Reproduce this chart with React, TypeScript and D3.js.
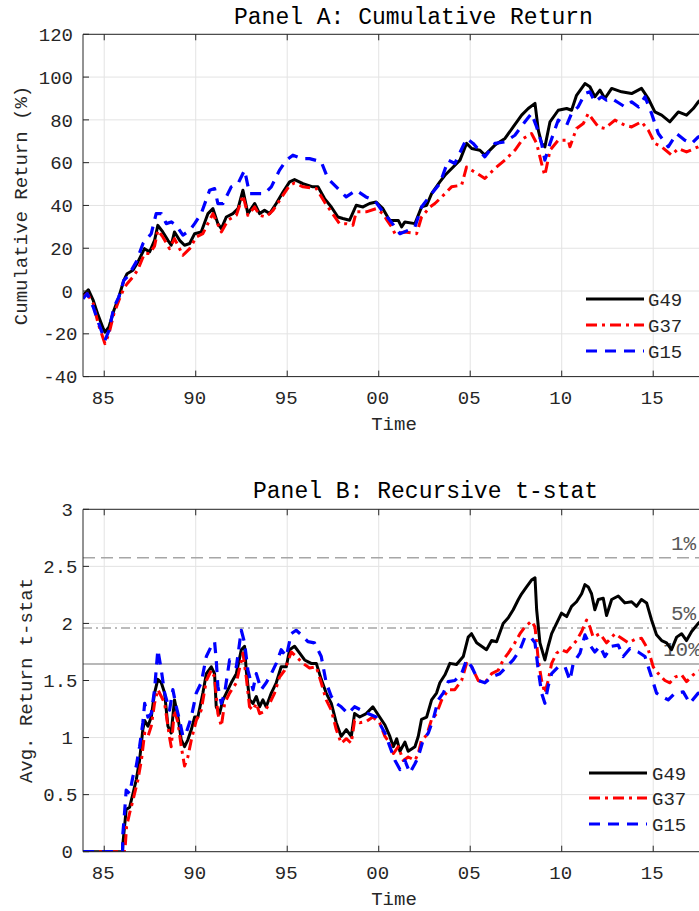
import React from "react";
import * as d3 from "d3";

type Pt = [number, number];

// ---------- Panel A: cumulative return (%) ----------
const g49A: Pt[] = [[1983.84,-2.0],[1984.13,0.6],[1984.4,-4.4],[1984.67,-11.4],[1984.95,-17.6],[1985.04,-19.2],[1985.26,-16.8],[1985.53,-9.0],[1985.8,-2.8],[1986.07,5.0],[1986.25,8.1],[1986.57,9.7],[1986.84,13.6],[1987.2,19.8],[1987.48,18.3],[1987.75,23.7],[1987.93,30.7],[1988.2,27.6],[1988.48,23.7],[1988.66,21.4],[1988.84,27.6],[1989.12,23.7],[1989.39,21.4],[1989.67,22.2],[1989.94,26.8],[1990.3,27.6],[1990.67,36.2],[1990.94,38.5],[1991.21,31.5],[1991.4,29.2],[1991.67,34.6],[1992.03,36.2],[1992.31,38.5],[1992.58,47.1],[1992.85,36.2],[1993.22,40.9],[1993.49,36.2],[1993.76,37.7],[1994.04,36.2],[1994.4,40.9],[1994.77,46.3],[1995.13,51.0],[1995.4,52.1],[1995.86,50.2],[1996.4,48.7],[1996.68,48.7],[1997.04,43.2],[1997.41,39.3],[1997.77,34.6],[1998.04,33.9],[1998.41,33.1],[1998.77,40.1],[1999.14,39.3],[1999.5,40.9],[1999.86,41.6],[2000.23,38.5],[2000.59,33.1],[2000.8,33.0],[2001.07,33.0],[2001.25,30.0],[2001.43,32.3],[2001.98,31.5],[2002.34,39.3],[2002.62,40.1],[2002.89,45.5],[2003.34,51.0],[2003.62,54.1],[2004.07,58.0],[2004.44,61.2],[2004.8,69.0],[2005.08,66.6],[2005.53,65.8],[2005.8,63.5],[2006.35,68.2],[2006.9,71.3],[2007.35,76.7],[2007.81,82.2],[2008.17,85.3],[2008.54,87.7],[2008.72,75.2],[2008.9,69.0],[2009.08,67.4],[2009.36,79.1],[2009.81,84.5],[2010.27,85.3],[2010.54,84.5],[2010.81,91.5],[2011.27,97.0],[2011.54,95.5],[2011.81,90.8],[2012.09,93.9],[2012.36,90.0],[2012.73,94.7],[2013.27,93.1],[2013.82,92.3],[2014.36,94.7],[2014.73,90.0],[2015.09,83.7],[2015.46,82.2],[2015.91,79.1],[2016.37,83.7],[2016.82,82.2],[2017.19,85.3],[2017.46,88.4],[2017.8,91.0]];

const g37A: Pt[] = [[1983.84,-2.8],[1984.07,-1.2],[1984.4,-5.9],[1984.67,-15.3],[1985.04,-24.6],[1985.26,-19.9],[1985.53,-10.6],[1985.8,-4.4],[1986.07,1.1],[1986.25,3.4],[1986.57,6.6],[1986.84,10.0],[1987.2,17.5],[1987.48,17.5],[1987.75,21.0],[1987.93,28.4],[1988.2,25.3],[1988.57,19.8],[1988.84,24.5],[1989.3,16.7],[1989.67,19.8],[1990.03,25.3],[1990.39,26.8],[1990.94,36.2],[1991.4,27.6],[1991.76,33.1],[1992.22,35.4],[1992.58,44.8],[1992.85,35.4],[1993.22,39.3],[1993.49,35.4],[1993.85,34.6],[1994.22,37.7],[1994.77,44.8],[1995.13,49.4],[1995.4,50.5],[1995.86,48.7],[1996.59,47.9],[1997.04,41.6],[1997.41,37.0],[1997.86,31.5],[1998.22,31.5],[1998.59,30.7],[1998.77,37.0],[1999.32,37.0],[1999.86,38.5],[2000.23,36.2],[2000.45,33.1],[2000.7,30.0],[2000.89,26.8],[2001.43,27.6],[2002.07,26.8],[2002.34,34.6],[2002.8,39.3],[2003.07,40.9],[2003.62,45.5],[2003.98,48.7],[2004.53,49.5],[2004.8,58.0],[2005.08,56.5],[2005.53,54.1],[2005.8,52.6],[2006.35,57.3],[2006.9,61.2],[2007.44,65.8],[2007.9,71.3],[2008.35,73.6],[2008.63,69.0],[2008.81,62.7],[2008.99,56.5],[2009.08,54.1],[2009.36,65.8],[2009.81,70.5],[2010.36,70.5],[2010.45,67.4],[2010.81,76.0],[2011.18,78.3],[2011.45,83.0],[2011.72,79.9],[2012.0,76.7],[2012.36,76.0],[2012.91,79.9],[2013.45,77.5],[2013.82,76.7],[2014.36,79.1],[2014.73,75.2],[2015.09,69.0],[2015.46,67.4],[2016.0,63.5],[2016.37,66.6],[2016.82,65.0],[2017.46,67.4],[2017.8,69.0]];

const g15A: Pt[] = [[1983.84,-3.6],[1984.07,-1.2],[1984.4,-7.5],[1984.67,-14.5],[1985.04,-23.1],[1985.26,-18.4],[1985.53,-7.5],[1985.8,-2.8],[1986.07,5.0],[1986.3,7.0],[1986.75,13.6],[1987.12,22.2],[1987.57,26.8],[1987.84,36.2],[1988.12,36.2],[1988.39,31.5],[1988.66,32.3],[1988.94,30.7],[1989.3,26.1],[1989.67,28.4],[1989.94,31.5],[1990.3,36.2],[1990.76,47.1],[1991.03,47.9],[1991.21,40.9],[1991.49,40.9],[1991.94,48.7],[1992.31,50.2],[1992.67,56.5],[1992.94,45.5],[1993.31,45.5],[1993.76,45.5],[1994.13,48.7],[1994.58,56.5],[1994.95,61.1],[1995.31,63.5],[1995.77,61.9],[1996.22,61.9],[1996.86,60.4],[1997.22,52.6],[1997.68,48.7],[1998.22,44.0],[1998.77,47.1],[1999.3,44.0],[1999.77,42.4],[2000.23,37.0],[2000.68,32.3],[2001.16,26.8],[2001.61,28.4],[2001.98,30.0],[2002.34,39.3],[2002.89,45.5],[2003.34,50.2],[2003.8,61.2],[2004.16,59.6],[2004.8,71.3],[2005.16,69.0],[2005.8,62.7],[2006.35,69.0],[2006.9,69.7],[2007.44,72.8],[2007.99,79.1],[2008.35,83.0],[2008.63,76.7],[2008.9,69.0],[2009.08,61.2],[2009.36,69.0],[2009.81,79.9],[2010.27,77.5],[2010.54,83.0],[2010.9,86.1],[2011.27,92.3],[2011.54,93.1],[2011.81,88.4],[2012.18,90.8],[2012.45,89.2],[2012.73,90.0],[2013.1,88.0],[2013.45,86.1],[2013.82,88.4],[2014.2,86.0],[2014.55,90.8],[2014.91,83.0],[2015.28,73.6],[2015.82,67.4],[2016.28,73.6],[2016.73,70.5],[2017.1,69.0],[2017.46,72.0],[2017.8,73.0]];

// ---------- Panel B: recursive t-stat ----------
const g49B: Pt[] = [[1983.84,0],[1986.0,0],[1986.02,0.07],[1986.11,0.22],[1986.2,0.37],[1986.39,0.39],[1986.57,0.51],[1986.75,0.63],[1986.93,0.80],[1987.11,1.07],[1987.21,1.15],[1987.39,1.10],[1987.57,1.18],[1987.75,1.39],[1987.93,1.51],[1988.12,1.48],[1988.3,1.39],[1988.48,1.10],[1988.66,1.04],[1988.84,1.33],[1989.03,1.18],[1989.21,0.98],[1989.39,0.92],[1989.57,0.98],[1989.76,1.07],[1989.94,1.18],[1990.12,1.18],[1990.39,1.39],[1990.58,1.56],[1990.85,1.62],[1991.03,1.56],[1991.12,1.27],[1991.3,1.21],[1991.49,1.33],[1991.67,1.39],[1991.94,1.48],[1992.22,1.56],[1992.49,1.77],[1992.67,1.80],[1992.76,1.59],[1992.94,1.33],[1993.13,1.30],[1993.31,1.36],[1993.49,1.27],[1993.67,1.33],[1993.85,1.27],[1994.13,1.39],[1994.4,1.48],[1994.67,1.62],[1994.95,1.62],[1995.13,1.77],[1995.4,1.80],[1995.68,1.74],[1995.95,1.68],[1996.31,1.65],[1996.59,1.65],[1996.86,1.51],[1997.13,1.39],[1997.41,1.30],[1997.68,1.13],[1997.95,1.01],[1998.23,1.07],[1998.5,1.01],[1998.68,1.21],[1998.96,1.18],[1999.32,1.21],[1999.68,1.27],[2000.05,1.18],[2000.34,1.11],[2000.61,1.01],[2000.8,0.92],[2000.98,0.99],[2001.16,0.88],[2001.43,0.96],[2001.61,0.88],[2001.98,0.92],[2002.16,1.01],[2002.34,1.16],[2002.62,1.18],[2002.89,1.33],[2003.16,1.39],[2003.34,1.48],[2003.62,1.55],[2003.89,1.65],[2004.25,1.64],[2004.62,1.71],[2004.89,1.88],[2005.07,1.91],[2005.35,1.83],[2005.62,1.80],[2005.89,1.77],[2006.17,1.85],[2006.44,1.84],[2006.8,2.0],[2007.08,2.05],[2007.35,2.12],[2007.63,2.21],[2007.81,2.26],[2008.08,2.32],[2008.35,2.38],[2008.54,2.40],[2008.63,2.12],[2008.81,1.83],[2009.08,1.68],[2009.26,1.80],[2009.45,1.91],[2009.72,2.0],[2009.99,2.09],[2010.27,2.06],[2010.54,2.15],[2010.81,2.19],[2011.09,2.26],[2011.27,2.34],[2011.45,2.32],[2011.63,2.26],[2011.81,2.12],[2012.0,2.21],[2012.27,2.22],[2012.45,2.07],[2012.73,2.21],[2013.09,2.24],[2013.45,2.18],[2013.82,2.19],[2014.09,2.15],[2014.36,2.21],[2014.64,2.18],[2014.91,2.03],[2015.18,1.90],[2015.46,1.85],[2015.73,1.83],[2016.0,1.77],[2016.28,1.88],[2016.55,1.91],[2016.82,1.85],[2017.1,1.93],[2017.46,2.0],[2017.8,2.05]];

const g37B: Pt[] = [[1983.84,0],[1986.1,0],[1986.15,0.05],[1986.22,0.22],[1986.39,0.34],[1986.57,0.45],[1986.84,0.63],[1987.03,0.80],[1987.21,1.04],[1987.39,1.01],[1987.57,1.10],[1987.75,1.30],[1987.93,1.42],[1988.12,1.36],[1988.3,1.30],[1988.57,1.0],[1988.66,0.92],[1988.84,1.24],[1989.03,1.13],[1989.21,0.92],[1989.39,0.75],[1989.57,0.83],[1989.76,0.98],[1990.03,1.15],[1990.3,1.24],[1990.58,1.50],[1990.85,1.59],[1991.03,1.53],[1991.21,1.21],[1991.4,1.10],[1991.58,1.30],[1991.85,1.39],[1992.22,1.48],[1992.58,1.74],[1992.76,1.53],[1992.94,1.27],[1993.13,1.24],[1993.31,1.30],[1993.49,1.21],[1993.76,1.23],[1994.04,1.30],[1994.31,1.39],[1994.58,1.53],[1994.86,1.59],[1995.22,1.75],[1995.49,1.71],[1995.86,1.65],[1996.22,1.61],[1996.59,1.62],[1996.86,1.48],[1997.13,1.33],[1997.41,1.24],[1997.68,1.07],[1997.95,0.95],[1998.23,0.99],[1998.5,0.95],[1998.68,1.15],[1998.96,1.13],[1999.32,1.14],[1999.68,1.18],[2000.05,1.13],[2000.34,1.01],[2000.61,0.95],[2000.8,0.86],[2001.07,0.92],[2001.34,0.80],[2001.61,0.83],[2001.98,0.80],[2002.16,0.86],[2002.34,0.98],[2002.62,1.02],[2002.89,1.16],[2003.16,1.21],[2003.44,1.33],[2003.8,1.42],[2004.16,1.42],[2004.53,1.50],[2004.8,1.65],[2005.08,1.62],[2005.44,1.50],[2005.8,1.48],[2006.17,1.56],[2006.53,1.59],[2006.8,1.68],[2007.08,1.74],[2007.44,1.83],[2007.72,1.91],[2007.99,1.97],[2008.35,2.02],[2008.54,1.97],[2008.72,1.68],[2008.9,1.50],[2009.08,1.39],[2009.26,1.50],[2009.45,1.65],[2009.72,1.74],[2009.99,1.77],[2010.27,1.75],[2010.54,1.80],[2010.81,1.85],[2011.09,1.93],[2011.36,2.03],[2011.54,1.97],[2011.72,1.88],[2012.09,1.91],[2012.45,1.83],[2012.91,1.91],[2013.27,1.87],[2013.64,1.83],[2014.0,1.86],[2014.36,1.87],[2014.73,1.77],[2015.0,1.62],[2015.28,1.56],[2015.64,1.50],[2015.91,1.48],[2016.19,1.53],[2016.55,1.55],[2016.82,1.49],[2017.19,1.55],[2017.46,1.58],[2017.8,1.60]];

const g15B: Pt[] = [[1983.84,0],[1986.0,0],[1986.02,0.16],[1986.11,0.34],[1986.2,0.54],[1986.39,0.51],[1986.57,0.66],[1986.75,0.75],[1986.93,0.92],[1987.11,1.13],[1987.21,1.30],[1987.39,1.18],[1987.57,1.21],[1987.75,1.42],[1987.93,1.77],[1988.12,1.59],[1988.3,1.39],[1988.57,1.24],[1988.75,1.42],[1988.94,1.27],[1989.12,1.15],[1989.3,1.01],[1989.48,1.04],[1989.76,1.18],[1990.03,1.39],[1990.3,1.48],[1990.58,1.71],[1990.85,1.80],[1991.03,1.84],[1991.12,1.68],[1991.21,1.45],[1991.4,1.30],[1991.58,1.39],[1991.85,1.68],[1992.22,1.62],[1992.49,1.94],[1992.67,1.83],[1992.85,1.59],[1993.13,1.42],[1993.31,1.56],[1993.58,1.42],[1993.85,1.48],[1994.13,1.56],[1994.4,1.65],[1994.67,1.77],[1994.95,1.71],[1995.22,1.91],[1995.49,1.94],[1995.77,1.90],[1996.13,1.84],[1996.49,1.83],[1996.86,1.71],[1997.13,1.48],[1997.41,1.36],[1997.68,1.30],[1997.95,1.27],[1998.32,1.21],[1998.68,1.27],[1999.04,1.24],[1999.41,1.21],[1999.86,1.18],[2000.23,1.07],[2000.34,1.04],[2000.61,0.92],[2000.89,0.80],[2001.16,0.72],[2001.43,0.80],[2001.7,0.69],[2001.98,0.77],[2002.16,0.83],[2002.43,0.98],[2002.71,1.04],[2002.98,1.16],[2003.25,1.33],[2003.53,1.39],[2003.8,1.49],[2004.16,1.50],[2004.53,1.56],[2004.8,1.68],[2005.08,1.62],[2005.44,1.50],[2005.8,1.48],[2006.17,1.53],[2006.62,1.56],[2006.99,1.62],[2007.35,1.68],[2007.72,1.77],[2007.99,1.88],[2008.35,1.87],[2008.54,1.83],[2008.72,1.59],[2008.9,1.39],[2009.08,1.30],[2009.26,1.45],[2009.45,1.56],[2009.81,1.62],[2010.18,1.62],[2010.45,1.50],[2010.63,1.65],[2011.0,1.74],[2011.27,1.90],[2011.54,1.81],[2011.81,1.75],[2012.09,1.80],[2012.36,1.71],[2012.73,1.80],[2013.09,1.81],[2013.36,1.71],[2013.73,1.78],[2014.18,1.75],[2014.55,1.71],[2014.91,1.53],[2015.18,1.39],[2015.46,1.36],[2015.82,1.33],[2016.19,1.39],[2016.64,1.40],[2017.0,1.30],[2017.46,1.39],[2017.8,1.42]];

// ---------- axes / labels ----------
const xDomain: [number, number] = [1983.84, 2017.83];
const xTickYears = [1985, 1990, 1995, 2000, 2005, 2010, 2015];
const xTickLabels = ["85", "90", "95", "00", "05", "10", "15"];
const aTicks = [-40, -20, 0, 20, 40, 60, 80, 100, 120];
const bTicks = [0, 0.5, 1, 1.5, 2, 2.5, 3];
const critValues = [2.576, 1.96, 1.645];
const critLabels = ["1%", "5%", "10%"];
const seriesNames = ["G49", "G37", "G15"];

const FONT = "'Liberation Mono', 'Courier New', monospace";
const TXT = "#262626";
const styles = [
  { color: "#000000", dash: "none", width: 3 },
  { color: "#ff0000", dash: "11,5,3,5", width: 3 },
  { color: "#0000ff", dash: "11,8", width: 3.2 },
];

interface PanelProps {
  id: string;
  series: Pt[][];
  yDomain: [number, number];
  yTicks: number[];
  top: number;
  bottom: number;
  title: string;
  titleX: number;
  titleY: number;
  ylabel: string;
  ylabelX: number;
  xLabelY: number;
  timeY: number;
  legendX: [number, number, number];
  legendY: number[];
  crit?: boolean;
}

const LEFT = 83;
const RIGHT = 705;

function Panel(p: PanelProps) {
  const x = d3.scaleLinear().domain(xDomain).range([LEFT, RIGHT]);
  const y = d3.scaleLinear().domain(p.yDomain).range([p.bottom, p.top]);
  const line = d3
    .line<Pt>()
    .x((d) => x(d[0]))
    .y((d) => y(d[1]));
  const clipId = "clip-" + p.id;
  return (
    <g>
      <defs>
        <clipPath id={clipId}>
          <rect x={LEFT} y={p.top} width={RIGHT - LEFT} height={p.bottom - p.top} />
        </clipPath>
      </defs>
      {/* grid */}
      {p.yTicks.map((t) => (
        <line key={"gy" + t} x1={LEFT} x2={RIGHT} y1={y(t)} y2={y(t)} stroke="#e3e3e3" strokeWidth={1} />
      ))}
      {xTickYears.map((t) => (
        <line key={"gx" + t} x1={x(t)} x2={x(t)} y1={p.top} y2={p.bottom} stroke="#e3e3e3" strokeWidth={1} />
      ))}
      {/* critical value lines */}
      {p.crit && (
        <g>
          <line x1={LEFT} x2={RIGHT} y1={y(critValues[0])} y2={y(critValues[0])} stroke="#a6a6a6" strokeWidth={1.5} strokeDasharray="12,6" />
          <line x1={LEFT} x2={RIGHT} y1={y(critValues[1])} y2={y(critValues[1])} stroke="#a6a6a6" strokeWidth={1.5} strokeDasharray="9,4,2,4" />
          <line x1={LEFT} x2={RIGHT} y1={y(critValues[2])} y2={y(critValues[2])} stroke="#a0a0a0" strokeWidth={1.5} />
          {critLabels.map((l, i) => (
            <text key={l} x={i === 2 ? 663 : 671} y={y(critValues[i]) - 8} fontFamily={FONT} fontSize={21} fill="#595959">
              {l}
            </text>
          ))}
        </g>
      )}
      {/* data */}
      <g clipPath={`url(#${clipId})`}>
        {p.series.map((s, i) => (
          <path
            key={i}
            d={line(s) || ""}
            fill="none"
            stroke={styles[i].color}
            strokeWidth={styles[i].width}
            strokeDasharray={styles[i].dash}
            strokeLinejoin="round"
          />
        ))}
      </g>
      {/* axes box */}
      <line x1={LEFT} x2={RIGHT} y1={p.top} y2={p.top} stroke={TXT} strokeWidth={1} />
      <line x1={LEFT} x2={RIGHT} y1={p.bottom} y2={p.bottom} stroke={TXT} strokeWidth={1} />
      <line x1={LEFT} x2={LEFT} y1={p.top} y2={p.bottom} stroke={TXT} strokeWidth={1} />
      {xTickYears.map((t) => (
        <g key={"xt" + t}>
          <line x1={x(t)} x2={x(t)} y1={p.bottom} y2={p.bottom - 6} stroke={TXT} />
          <line x1={x(t)} x2={x(t)} y1={p.top} y2={p.top + 6} stroke={TXT} />
        </g>
      ))}
      {p.yTicks.map((t) => (
        <line key={"yt" + t} x1={LEFT} x2={LEFT + 6} y1={y(t)} y2={y(t)} stroke={TXT} />
      ))}
      {/* tick labels */}
      {xTickYears.map((t, i) => (
        <text key={"xl" + t} x={x(t) - 1} y={p.xLabelY} textAnchor="middle" fontFamily={FONT} fontSize={19} fill={TXT}>
          {xTickLabels[i]}
        </text>
      ))}
      {p.yTicks.map((t) => {
        const lab = String(t);
        const off = /[.\-]/.test(lab) ? 4.5 : 0;
        return (
          <text key={"yl" + t} x={73 + off} y={y(t)} dy="0.35em" textAnchor="end" fontFamily={FONT} fontSize={19} fill={TXT}>
            {lab}
          </text>
        );
      })}
      {/* titles */}
      <text x={p.titleX} y={p.titleY} fontFamily={FONT} fontSize={23} fill="#000">
        {p.title}
      </text>
      <text x={394} y={p.timeY} textAnchor="middle" fontFamily={FONT} fontSize={19} fill={TXT}>
        Time
      </text>
      <text
        transform={`translate(${p.ylabelX},${(p.top + p.bottom) / 2}) rotate(-90)`}
        textAnchor="middle"
        fontFamily={FONT}
        fontSize={19}
        fill={TXT}
      >
        {p.ylabel}
      </text>
      {/* legend */}
      {seriesNames.map((n, i) => (
        <g key={n}>
          <line
            x1={p.legendX[0]}
            x2={p.legendX[1]}
            y1={p.legendY[i]}
            y2={p.legendY[i]}
            stroke={styles[i].color}
            strokeWidth={styles[i].width}
            strokeDasharray={styles[i].dash}
          />
          <text x={p.legendX[2]} y={p.legendY[i]} dy="0.35em" fontFamily={FONT} fontSize={19} fill={TXT}>
            {n}
          </text>
        </g>
      ))}
    </g>
  );
}

export default function App() {
  return (
    <svg width={699} height={911} style={{ position: "absolute", left: 0, top: 0, background: "#fff" }}>
      <rect x={0} y={0} width={699} height={911} fill="#fff" />
      <Panel
        id="a"
        series={[g49A, g37A, g15A]}
        yDomain={[-40, 120]}
        yTicks={aTicks}
        top={34.3}
        bottom={376.6}
        title="Panel A: Cumulative Return"
        titleX={234}
        titleY={24}
        ylabel="Cumulative Return (%)"
        ylabelX={27}
        xLabelY={404}
        timeY={430}
        legendX={[586, 644, 648]}
        legendY={[299, 325, 351]}
      />
      <Panel
        id="b"
        series={[g49B, g37B, g15B]}
        yDomain={[0, 3]}
        yTicks={bTicks}
        top={509.3}
        bottom={851.7}
        title="Panel B: Recursive t-stat"
        titleX={253}
        titleY={498}
        ylabel="Avg. Return t-stat"
        ylabelX={32}
        xLabelY={879}
        timeY={905}
        legendX={[589, 647, 652]}
        legendY={[773, 798, 824]}
        crit
      />
    </svg>
  );
}
